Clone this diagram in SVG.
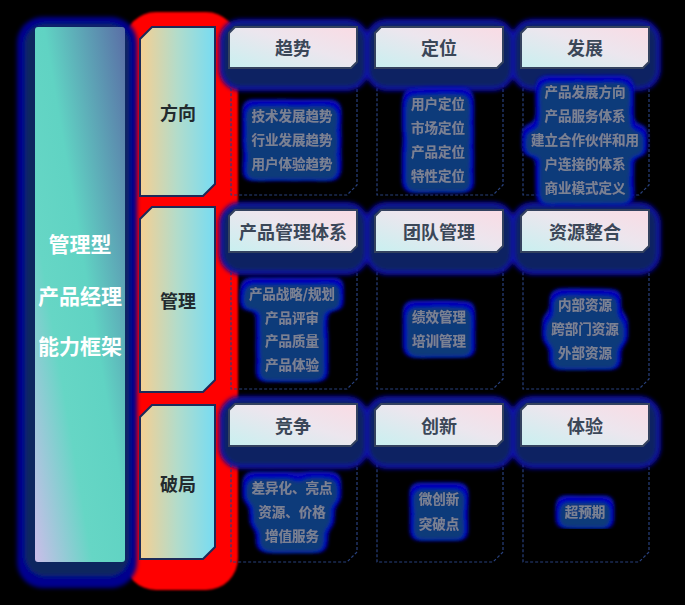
<svg xmlns="http://www.w3.org/2000/svg" width="685" height="605" viewBox="0 0 685 605">
<defs>
<style>
.cjk{font-family:"Noto Sans CJK SC","Noto Sans",sans-serif;font-weight:700;text-anchor:middle;dominant-baseline:central}
.main{fill:#ffffff;font-size:21px}
.mid{fill:#222a2e;font-size:18px}
.head{fill:#3b4758;font-size:18px}
.item{fill:#7a8293;font-size:13.5px}
.midbox{fill:url(#midGrad);stroke:#1d2a58;stroke-width:2}
.headbox{fill:url(#headGrad);stroke:#34425f;stroke-width:2}
.hglow{fill:#0c2462;stroke:#0a0aac;stroke-width:4}
.dash{fill:none;stroke:#28407c;stroke-width:1.2;stroke-dasharray:3 2}
</style>
<linearGradient id="leftGrad" x1="1" y1="0" x2="0" y2="1">
<stop offset="0" stop-color="#5a6ea6"/>
<stop offset="0.45" stop-color="#60d3c3"/>
<stop offset="0.68" stop-color="#66d6c5"/>
<stop offset="1" stop-color="#cbbde9"/>
</linearGradient>
<linearGradient id="midGrad" x1="0" y1="0" x2="1" y2="0">
<stop offset="0" stop-color="#f6cf92"/>
<stop offset="0.5" stop-color="#b2dccb"/>
<stop offset="1" stop-color="#76dcf3"/>
</linearGradient>
<linearGradient id="headGrad" x1="0" y1="1" x2="1" y2="0">
<stop offset="0" stop-color="#c8f0f0"/>
<stop offset="0.55" stop-color="#ece6ee"/>
<stop offset="1" stop-color="#fadbe4"/>
</linearGradient>
<filter id="soft" x="-20%" y="-20%" width="140%" height="140%">
<feGaussianBlur stdDeviation="2"/>
</filter>
<filter id="soft1" x="-20%" y="-20%" width="140%" height="140%">
<feGaussianBlur stdDeviation="1.2"/>
</filter>
<filter id="blob" x="-40%" y="-40%" width="180%" height="180%">
<feMorphology in="SourceAlpha" operator="dilate" radius="9" result="d1"/>
<feGaussianBlur in="d1" stdDeviation="5" result="b1"/>
<feComponentTransfer in="b1" result="t1"><feFuncA type="linear" slope="4" intercept="-1.2"/></feComponentTransfer>
<feGaussianBlur in="t1" stdDeviation="1.5" result="s1"/>
<feFlood flood-color="#0a10b8"/>
<feComposite in2="s1" operator="in" result="outer"/>
<feMorphology in="SourceAlpha" operator="dilate" radius="6" result="d2"/>
<feOffset in="d2" dx="0" dy="3" result="o2"/>
<feGaussianBlur in="o2" stdDeviation="5" result="b2"/>
<feComponentTransfer in="b2" result="t2"><feFuncA type="linear" slope="4" intercept="-1.6"/></feComponentTransfer>
<feGaussianBlur in="t2" stdDeviation="1.5" result="s2"/>
<feFlood flood-color="#0c3a7a"/>
<feComposite in2="s2" operator="in" result="inner"/>
<feMerge>
<feMergeNode in="outer"/>
<feMergeNode in="inner"/>
<feMergeNode in="SourceGraphic"/>
</feMerge>
</filter>
</defs>
<rect width="685" height="605" fill="#000000"/>

<g id="glows">
<rect x="124" y="12" width="114" height="578" rx="32" fill="#ff0000" filter="url(#soft1)"/>
<g filter="url(#soft)">
<rect x="17" y="17" width="120" height="571" rx="26" fill="#00008e"/>
<rect x="25" y="24" width="104" height="552" rx="20" fill="#0c275e"/>
</g>
</g>

<g id="connectors">
<path class="dash" d="M231 70 H357 V185 L347 195 H231 Z"/>
<path class="dash" d="M377 70 H503 V185 L493 195 H377 Z"/>
<path class="dash" d="M523 70 H649 V185 L639 195 H523 Z"/>
<path class="dash" d="M231 254 H357 V379 L347 389 H231 Z"/>
<path class="dash" d="M377 254 H503 V379 L493 389 H377 Z"/>
<path class="dash" d="M523 254 H649 V379 L639 389 H523 Z"/>
<path class="dash" d="M231 448 H357 V552 L347 562 H231 Z"/>
<path class="dash" d="M377 448 H503 V552 L493 562 H377 Z"/>
<path class="dash" d="M523 448 H649 V552 L639 562 H523 Z"/>
</g>

<g id="left-title">
<rect x="35" y="27" width="90" height="535" rx="3" fill="url(#leftGrad)"/>
<text class="cjk main" x="80" y="243">管理型</text>
<text class="cjk main" x="80" y="295">产品经理</text>
<text class="cjk main" x="80" y="345">能力框架</text>
</g>

<g id="mid-direction">
<path class="midbox" d="M152 27 H215 V184 L203 196 H140 V39 Z"/>
<text class="cjk mid" x="178" y="112">方向</text>
</g>
<g id="mid-manage">
<path class="midbox" d="M152 207 H215 V380 L203 392 H140 V219 Z"/>
<text class="cjk mid" x="178" y="300">管理</text>
</g>
<g id="mid-break">
<path class="midbox" d="M152 405 H215 V547 L203 559 H140 V417 Z"/>
<text class="cjk mid" x="178" y="483">破局</text>
</g>

<g id="header-glows" filter="url(#soft)">
<rect class="hglow" x="221" y="21" width="146" height="68" rx="20"/>
<rect class="hglow" x="367" y="21" width="146" height="68" rx="20"/>
<rect class="hglow" x="513" y="21" width="146" height="68" rx="20"/>
<rect class="hglow" x="221" y="204" width="146" height="69" rx="20"/>
<rect class="hglow" x="367" y="204" width="146" height="69" rx="20"/>
<rect class="hglow" x="513" y="204" width="146" height="69" rx="20"/>
<rect class="hglow" x="221" y="398" width="146" height="69" rx="20"/>
<rect class="hglow" x="367" y="398" width="146" height="69" rx="20"/>
<rect class="hglow" x="513" y="398" width="146" height="69" rx="20"/>
</g>

<g id="cell-trend">
<path class="headbox" d="M235 27 H357 V62 L351 68 H229 V33 Z"/>
<text class="cjk head" x="293" y="47">趋势</text>
<g filter="url(#blob)">
<text class="cjk item" x="292" y="115">技术发展趋势</text>
<text class="cjk item" x="292" y="139">行业发展趋势</text>
<text class="cjk item" x="292" y="163">用户体验趋势</text>
</g>
</g>

<g id="cell-position">
<path class="headbox" d="M381 27 H503 V62 L497 68 H375 V33 Z"/>
<text class="cjk head" x="439" y="47">定位</text>
<g filter="url(#blob)">
<text class="cjk item" x="438" y="103">用户定位</text>
<text class="cjk item" x="438" y="127">市场定位</text>
<text class="cjk item" x="438" y="151">产品定位</text>
<text class="cjk item" x="438" y="175">特性定位</text>
</g>
</g>

<g id="cell-develop">
<path class="headbox" d="M527 27 H649 V62 L643 68 H521 V33 Z"/>
<text class="cjk head" x="585" y="47">发展</text>
<g filter="url(#blob)">
<text class="cjk item" x="585" y="91">产品发展方向</text>
<text class="cjk item" x="585" y="115">产品服务体系</text>
<text class="cjk item" x="585" y="139">建立合作伙伴和用</text>
<text class="cjk item" x="585" y="163">户连接的体系</text>
<text class="cjk item" x="585" y="187">商业模式定义</text>
</g>
</g>

<g id="cell-pms">
<path class="headbox" d="M235 210 H357 V246 L351 252 H229 V216 Z"/>
<text class="cjk head" x="293" y="231">产品管理体系</text>
<g filter="url(#blob)">
<text class="cjk item" x="292" y="293">产品战略/规划</text>
<text class="cjk item" x="292" y="317">产品评审</text>
<text class="cjk item" x="292" y="340">产品质量</text>
<text class="cjk item" x="292" y="364">产品体验</text>
</g>
</g>

<g id="cell-team">
<path class="headbox" d="M381 210 H503 V246 L497 252 H375 V216 Z"/>
<text class="cjk head" x="439" y="231">团队管理</text>
<g filter="url(#blob)">
<text class="cjk item" x="439" y="316">绩效管理</text>
<text class="cjk item" x="439" y="340">培训管理</text>
</g>
</g>

<g id="cell-resource">
<path class="headbox" d="M527 210 H649 V246 L643 252 H521 V216 Z"/>
<text class="cjk head" x="585" y="231">资源整合</text>
<g filter="url(#blob)">
<text class="cjk item" x="585" y="304">内部资源</text>
<text class="cjk item" x="585" y="328">跨部门资源</text>
<text class="cjk item" x="585" y="352">外部资源</text>
</g>
</g>

<g id="cell-compete">
<path class="headbox" d="M235 404 H357 V440 L351 446 H229 V410 Z"/>
<text class="cjk head" x="293" y="425">竞争</text>
<g filter="url(#blob)">
<text class="cjk item" x="292" y="487">差异化、亮点</text>
<text class="cjk item" x="292" y="511">资源、价格</text>
<text class="cjk item" x="292" y="535">增值服务</text>
</g>
</g>

<g id="cell-innovate">
<path class="headbox" d="M381 404 H503 V440 L497 446 H375 V410 Z"/>
<text class="cjk head" x="439" y="425">创新</text>
<g filter="url(#blob)">
<text class="cjk item" x="439" y="498">微创新</text>
<text class="cjk item" x="439" y="523">突破点</text>
</g>
</g>

<g id="cell-experience">
<path class="headbox" d="M527 404 H649 V440 L643 446 H521 V410 Z"/>
<text class="cjk head" x="585" y="425">体验</text>
<g filter="url(#blob)">
<text class="cjk item" x="585" y="511">超预期</text>
</g>
</g>
</svg>
